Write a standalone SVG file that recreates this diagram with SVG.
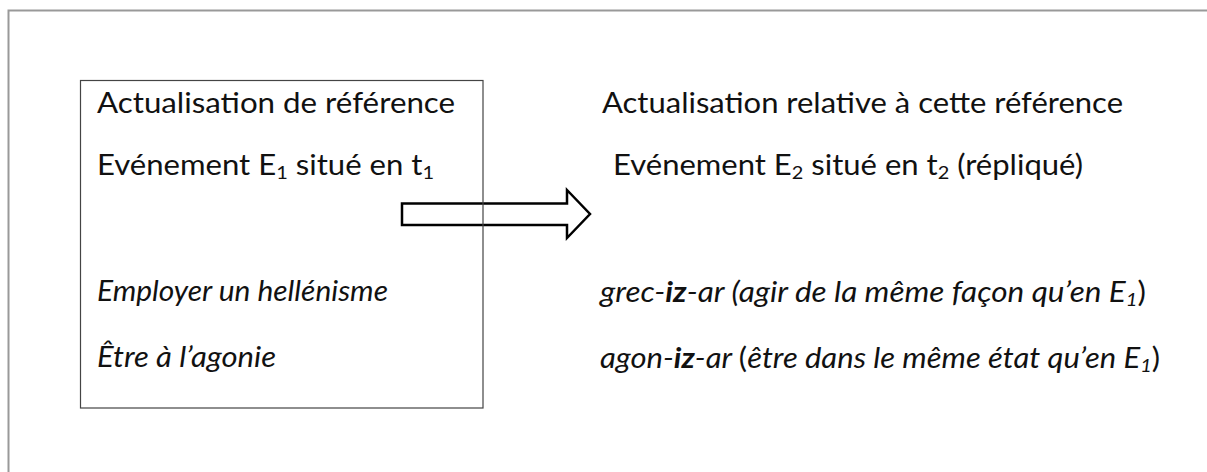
<svg xmlns="http://www.w3.org/2000/svg" width="1207" height="472" viewBox="0 0 1207 472">
<style>
text{font-family:Lato,"Open Sans","Liberation Sans",sans-serif;font-size:28px;fill:#111}
.it{font-style:italic}
.b{font-weight:bold}
.sub{font-size:18px}
</style>
<rect x="0" y="0" width="1207" height="472" fill="#fff"/>
<g id="frame">
<path d="M8.5 472 V10.5 H1207" fill="none" stroke="#999" stroke-width="2"/>
</g>
<g id="connectors">
<path d="M402 203.5 H567 V190 L590 214 L567 238 V225 H402 Z" fill="#fff" stroke="#000" stroke-width="2.5" stroke-linejoin="miter"/>
</g>
<g id="node-reference">
<rect x="80.5" y="80.5" width="402.5" height="327.5" fill="none" stroke="#444" stroke-width="1.2"/>
<text x="97" y="113" textLength="358" lengthAdjust="spacingAndGlyphs">Actualisation de référence</text>
<text x="97" y="175" textLength="337" lengthAdjust="spacingAndGlyphs">Evénement E<tspan class="sub" dy="4">1</tspan><tspan dy="-4"> situé en t</tspan><tspan class="sub" dy="4">1</tspan></text>
<text class="it" x="97" y="301" textLength="291" lengthAdjust="spacingAndGlyphs">Employer un hellénisme</text>
<text class="it" x="97" y="367" textLength="179" lengthAdjust="spacingAndGlyphs">Être à l’agonie</text>
</g>
<g id="node-relative">
<text x="602" y="113" textLength="521" lengthAdjust="spacingAndGlyphs">Actualisation relative à cette référence</text>
<text x="613" y="175" textLength="470" lengthAdjust="spacingAndGlyphs">Evénement E<tspan class="sub" dy="4">2</tspan><tspan dy="-4"> situé en t</tspan><tspan class="sub" dy="4">2</tspan><tspan dy="-4"> (répliqué)</tspan></text>
<text x="600" y="302" textLength="546" lengthAdjust="spacingAndGlyphs"><tspan class="it">grec-</tspan><tspan class="it b">iz</tspan><tspan class="it">-ar (agir de la même façon qu’en E</tspan><tspan class="it sub" dy="4">1</tspan><tspan dy="-4">)</tspan></text>
<text x="600" y="368" textLength="560" lengthAdjust="spacingAndGlyphs"><tspan class="it">agon-</tspan><tspan class="it b">iz</tspan><tspan class="it">-ar </tspan><tspan>(</tspan><tspan class="it">être dans le même état qu’en E</tspan><tspan class="it sub" dy="4">1</tspan><tspan dy="-4">)</tspan></text>
</g>
</svg>
